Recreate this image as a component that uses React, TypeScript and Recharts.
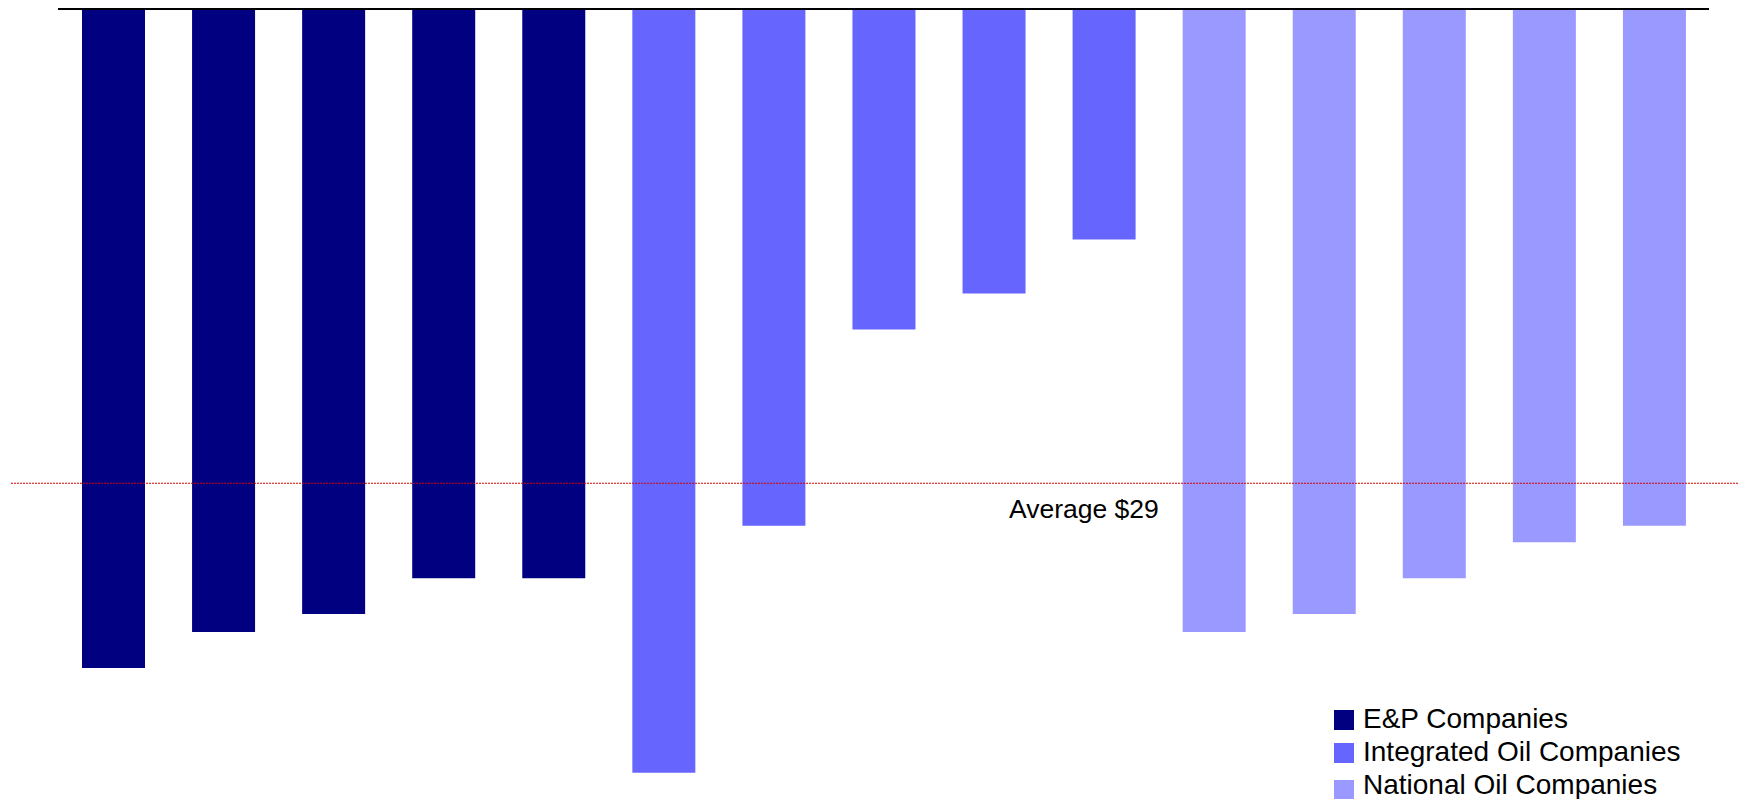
import React from 'react';
import { BarChart, Bar, XAxis, YAxis, ReferenceLine, Legend } from 'recharts';

// Breakeven cost per company, $ (no labels in the original)
const companies = [
  'E&P 1', 'E&P 2', 'E&P 3', 'E&P 4', 'E&P 5',
  'IOC 1', 'IOC 2', 'IOC 3', 'IOC 4', 'IOC 5',
  'NOC 1', 'NOC 2', 'NOC 3', 'NOC 4', 'NOC 5',
];
const epValues = [40.3, 38.1, 37.0, 34.8, 34.8];
const integratedValues = [46.7, 31.6, 19.6, 17.4, 14.1];
const nationalValues = [38.1, 37.0, 34.8, 32.6, 31.6];
const average = 29;

const groups = [
  { key: 'ep', name: 'E&P Companies', color: '#000080', values: epValues },
  { key: 'integrated', name: 'Integrated Oil Companies', color: '#6666FF', values: integratedValues },
  { key: 'national', name: 'National Oil Companies', color: '#9999FF', values: nationalValues },
];

const data = companies.map((name, i) => {
  const row: Record<string, string | number | null> = { name };
  let idx = i;
  groups.forEach(g => {
    if (idx >= 0 && idx < g.values.length) row[g.key] = g.values[idx];
    else row[g.key] = null;
    idx -= g.values.length;
  });
  return row;
});

const font = '"Liberation Sans", Arial, sans-serif';

const AverageLine = (props: any) => {
  const { x1, y1, x2, y2 } = props;
  return (
    <g>
      <line x1={x1 - 47} y1={y1} x2={x2 + 29} y2={y2} stroke="#D40000" strokeWidth={1.2} strokeDasharray="2 1" />
      <text x={x1 + 951} y={y1 + 35} fontSize={26.5} fontFamily={font} fill="#000">
        Average ${average}
      </text>
    </g>
  );
};

const LegendBox = (props: any) => {
  const { payload = [] } = props;
  return (
    <div style={{ fontFamily: font, fontSize: 28, lineHeight: '33px', color: '#000' }}>
      {payload.map((p: any, i: number) => (
        <div key={p.value} style={{ position: 'relative', height: 33, paddingLeft: 29, whiteSpace: 'nowrap' }}>
          <span style={{ position: 'absolute', left: 0, top: i === 2 ? 12 : 8, width: 20, height: 20, backgroundColor: p.color }} />
          {p.value}
        </div>
      ))}
    </div>
  );
};

export default function App() {
  return (
    <div style={{ position: 'absolute', left: 0, top: 0, width: 1743, height: 799, background: '#fff' }}>
      <BarChart width={1743} height={799} data={data} margin={{ top: 9, right: 34, bottom: 5, left: 58 }}>
        <XAxis dataKey="name" hide />
        <YAxis hide reversed domain={[0, 48]} />
        {groups.map(g => (
          <Bar key={g.key} dataKey={g.key} name={g.name} fill={g.color} stackId="s" barSize={63} isAnimationActive={false} />
        ))}
        <ReferenceLine y={0} stroke="#000" strokeWidth={2} ifOverflow="visible" />
        <ReferenceLine y={average} ifOverflow="visible" shape={AverageLine} />
        <Legend
          layout="vertical"
          align="center"
          verticalAlign="middle"
          content={LegendBox}
          wrapperStyle={{ position: 'absolute', left: 1334, top: 702, width: 'auto', height: 'auto' }}
        />
      </BarChart>
    </div>
  );
}
